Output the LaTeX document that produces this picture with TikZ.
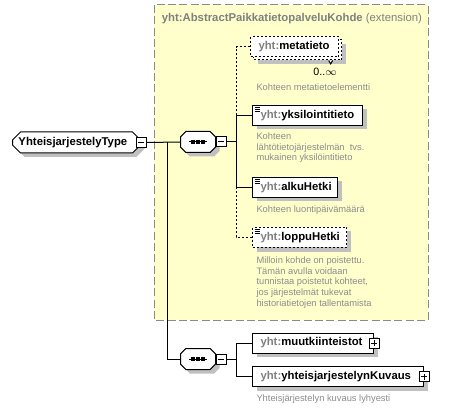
\documentclass[tikz,border=0pt]{standalone}
\usepackage{fontspec}
\setmainfont{Liberation Sans}
\usetikzlibrary{shapes.misc,shadows}
\definecolor{ylw}{HTML}{FFFFCC}
\definecolor{pfx}{HTML}{808080}
\definecolor{dsc}{HTML}{8C8C8C}
\definecolor{edge}{HTML}{8A8A8A}
\definecolor{shd}{HTML}{C0C0C0}

\begin{document}
\begin{tikzpicture}[x=0.75pt, y=-0.75pt, line width=0.75pt,
    shade/.style={drop shadow={shadow xshift=3pt, shadow yshift=-3pt, fill=shd, opacity=1}},
    elem/.style={draw, fill=white, anchor=west, minimum height=15pt, inner xsep=6pt, inner ysep=0pt,
        align=left, font=\fontsize{8.5}{10}\selectfont\bfseries},
    opt/.style={elem, dash pattern=on 1.5pt off 1.5pt},
    desc/.style={anchor=north west, inner sep=0pt, align=left, text=dsc, font=\fontsize{7}{8.1}\selectfont},
    seqbox/.style={minimum width=25.5pt, minimum height=15pt, inner sep=0pt},
    pm/.style={draw, fill=white, minimum size=7.5pt, inner sep=0pt},
    minus/.style={pm, path picture={\draw ([xshift=1.5pt]path picture bounding box.west) -- ([xshift=-1.5pt]path picture bounding box.east);}},
    plus/.style={pm, path picture={
        \draw ([xshift=1.5pt]path picture bounding box.west) -- ([xshift=-1.5pt]path picture bounding box.east);
        \draw ([yshift=-1.5pt]path picture bounding box.north) -- ([yshift=1.5pt]path picture bounding box.south);}}
]
    \useasboundingbox (0,0) rectangle (470,409);

    % extension area
    \draw[draw=edge, fill=ylw, dash pattern=on 6pt off 2.5pt] (154,5) rectangle (428,320);
    \node[anchor=west, inner sep=1pt, text=pfx, font=\fontsize{8.5}{10}\selectfont] (ext) at (160,19)
        {\textbf{yht:AbstractPaikkatietopalveluKohde} (extension)};

    % the type
    \node[chamfered rectangle, chamfered rectangle xsep=2.5pt, draw, fill=white, shade, anchor=west,
        minimum height=15.75pt, text width=87pt, inner xsep=2pt, inner ysep=0pt,
        font=\fontsize{8.5}{10}\selectfont\bfseries] (typ) at (12,142.5) {YhteisjarjestelyType};
    \node[minus] (typm) at (typ.east) {};

    % the two sequences
    \node[seqbox] (seq1) at (198,142) {};
    \node[seqbox] (seq2) at (198,359) {};
    \foreach \q in {seq1, seq2} {
        \draw[fill=white, shade] ([xshift=4pt]\q.north west) -- ([xshift=-4pt]\q.north east)
            -- ([yshift=-4pt]\q.north east) -- ([yshift=4pt]\q.south east)
            -- ([xshift=-4pt]\q.south east) -- ([xshift=4pt]\q.south west)
            -- ([yshift=4pt]\q.south west) -- ([yshift=-4pt]\q.north west) -- cycle;
        \draw ([xshift=-6.4pt]\q.center) -- ([xshift=6.4pt]\q.center);
        \foreach \s in {-3.75,0,3.75}
            \fill ([xshift=\s pt]\q.center) +(-1.2pt,-1.2pt) rectangle +(1.2pt,1.2pt);
    }
    \node[minus, anchor=west] (seq1m) at (seq1.east) {};
    \node[minus, anchor=west] (seq2m) at (seq2.east) {};

    % elements of the extension
    \node[opt, shade, text width=54pt] (metaback) at (253,50) {\phantom{yht:metatieto}};
    \node[opt, text width=54pt] (meta) at (250,47) {\textcolor{pfx}{yht:}metatieto};
    \draw[fill=white] ([xshift=-10pt]metaback.south east) -- ++(1.5pt,-2.5pt) -- ++(1.5pt,2.5pt);
    \node[font=\fontsize{8}{9}\selectfont] (card) at (325,72) {0..$\infty$};
    \node[desc] (metad) at (256,83) {Kohteen metatietoelementti};

    \node[elem, shade, text width=70.5pt] (yks) at (252,115.5) {\textcolor{pfx}{yht:}yksilointitieto};
    \node[desc] (yksd) at (256,132) {Kohteen\\lähtötietojärjestelmän\ \ tvs.\\mukainen yksilöintitieto};

    \node[elem, shade, text width=51.75pt] (alku) at (252,187.5) {\textcolor{pfx}{yht:}alkuHetki};
    \node[desc] (alkud) at (256,205) {Kohteen luontipäivämäärä};

    \node[opt, shade, text width=58.5pt] (loppu) at (252,237.5) {\textcolor{pfx}{yht:}loppuHetki};
    \node[desc] (loppud) at (256,256) {Milloin kohde on poistettu.\\Tämän avulla voidaan\\tunnistaa poistetut kohteet,\\jos järjestelmät tukevat\\historiatietojen tallentamista};

    % simple type marks
    \foreach \n in {yks, alku, loppu}
        \foreach \d in {1.5,3,4.5}
            \draw[line width=0.6pt] ([xshift=2pt, yshift=-\d pt]\n.north west) -- ++(4pt,0pt);

    % elements of the second sequence
    \node[elem, shade, text width=78.75pt] (muut) at (252,343) {\textcolor{pfx}{yht:}muutkiinteistot};
    \node[plus] (muutp) at (muut.east) {};
    \node[elem, shade, text width=116.25pt] (kuv) at (252,376.5) {\textcolor{pfx}{yht:}yhteisjarjestelynKuvaus};
    \node[plus] (kuvp) at (kuv.east) {};
    \node[desc] (kuvd) at (256,394) {Yhteisjärjestelyn kuvaus lyhyesti};

    % connectors
    \coordinate (j0) at (167,142);
    \coordinate (j1) at (236,142);
    \coordinate (j2) at (236,359);
    \draw (typm.east) -- (seq1.west);
    \draw (j0) |- (seq2.west);
    \draw (seq1m.east) -- (j1);
    \draw (j1) |- (yks.west);
    \draw (j1) |- (alku.west);
    \draw[dash pattern=on 1.5pt off 1.5pt] (j1 |- yks.west) |- (meta.west);
    \draw[dash pattern=on 1.5pt off 1.5pt] (j1 |- alku.west) |- (loppu.west);
    \draw (seq2m.east) -- (j2);
    \draw (j2) |- (muut.west);
    \draw (j2) |- (kuv.west);
\end{tikzpicture}
\end{document}
